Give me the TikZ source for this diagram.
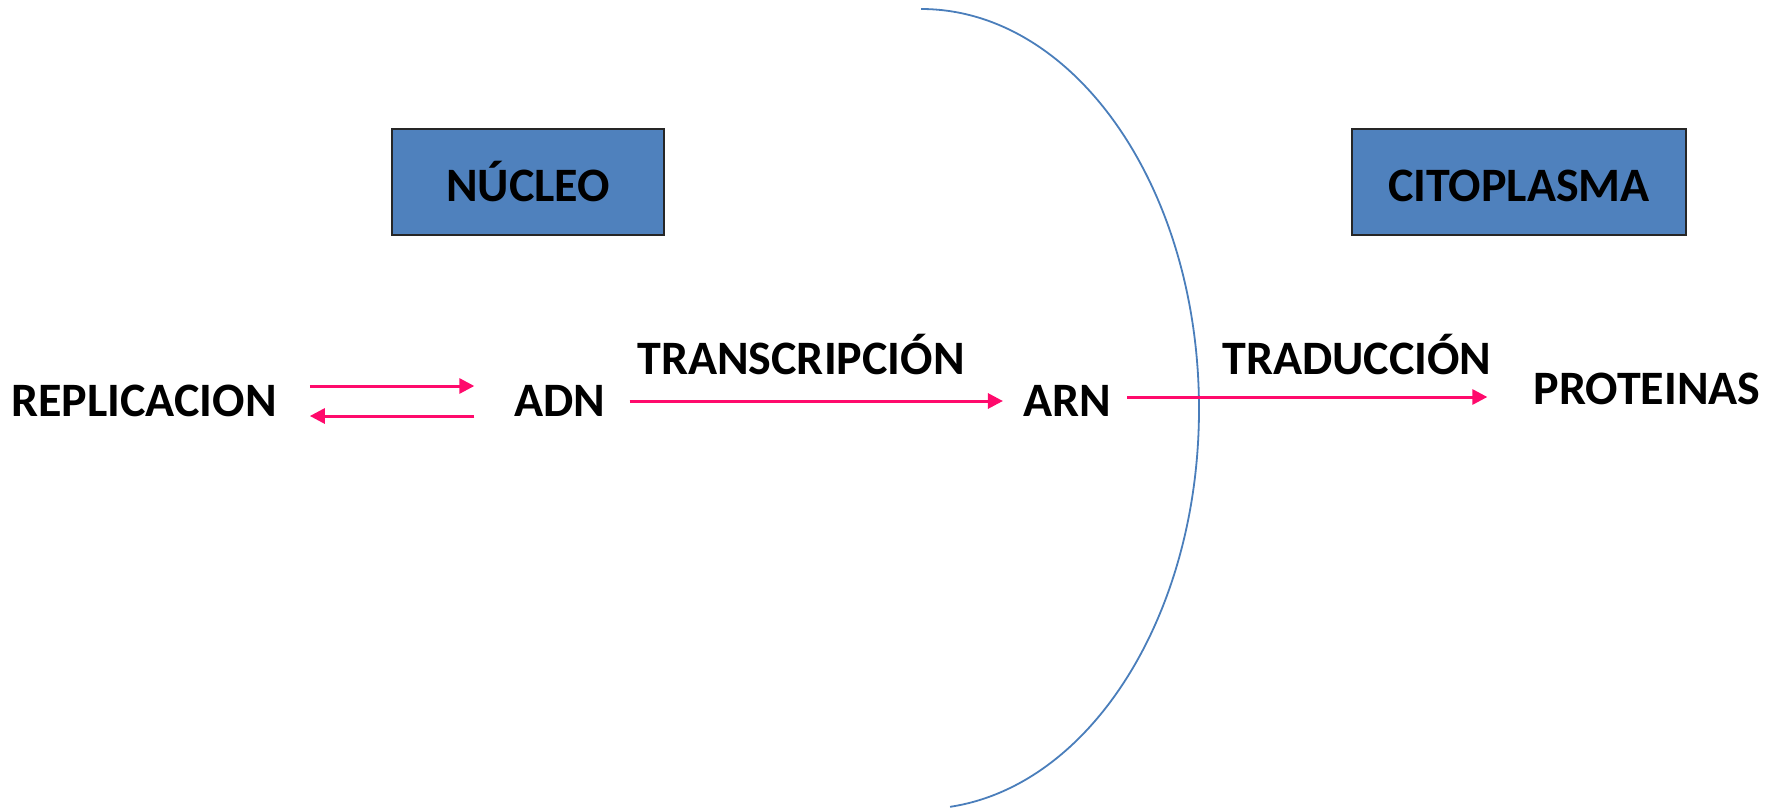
\documentclass[tikz,border=0pt]{standalone}
\usepackage{fontspec}
\setmainfont{Carlito}
\usetikzlibrary{arrows.meta}
\definecolor{boxblue}{HTML}{4F81BD}
\definecolor{arcblue}{HTML}{4A7EBB}
\definecolor{arrpink}{HTML}{FF0A6C}
\begin{document}
\begin{tikzpicture}[x=1pt,y=1pt,
  lbl/.style={inner sep=0pt, anchor=base, font=\fontsize{48}{58}\selectfont\bfseries},
  titlebox/.style={draw=black!85, line width=1.6pt, fill=boxblue, inner sep=0pt, minimum height=106pt},
  arr/.style={draw=arrpink, line width=3pt, -{Triangle[length=15pt,width=15pt]}}]
\useasboundingbox (0,0) rectangle (1781,-809);
% boxes
\node[titlebox, minimum width=272pt] (nucleo) at (528,-182) {};
\node[lbl] (nucleot) at (528,-201) {NÚCLEO};
\node[titlebox, minimum width=334pt] (cito) at (1519,-182) {};
\node[lbl] (citot) at (1519,-201) {CITOPLASMA};
% membrane
\draw[arcblue, line width=1.8pt] (921,-9) coordinate (mtop) arc[start angle=90, end angle=-84, x radius=278, y radius=400] coordinate (mbot);
% text nodes
\node[lbl] (rep) at (144,-416) {REPLICACION};
\node[lbl] (adn) at (560,-416) {ADN};
\node[lbl] (arn) at (1067,-416) {ARN};
\node[lbl] (prot) at (1647,-404) {PROTEINAS};
\node[lbl] (transc) at (801,-374) {TRANSCRIPCIÓN};
\node[lbl] (trad) at (1357,-374) {TRADUCCIÓN};
% arrows
\draw[arr, shorten <=33pt, shorten >=40pt] (rep.east |- 0,-386) -- (adn.west |- 0,-386);
\draw[arr, shorten <=40pt, shorten >=33pt] (adn.west |- 0,-416) -- (rep.east |- 0,-416);
\draw[arr, shorten <=24pt, shorten >=20pt] (adn.east |- 0,-401) -- (arn.west |- 0,-401);
\draw[arr, shorten <=16pt, shorten >=46pt] (arn.east |- 0,-397) -- (prot.west |- 0,-397);
\end{tikzpicture}
\end{document}
